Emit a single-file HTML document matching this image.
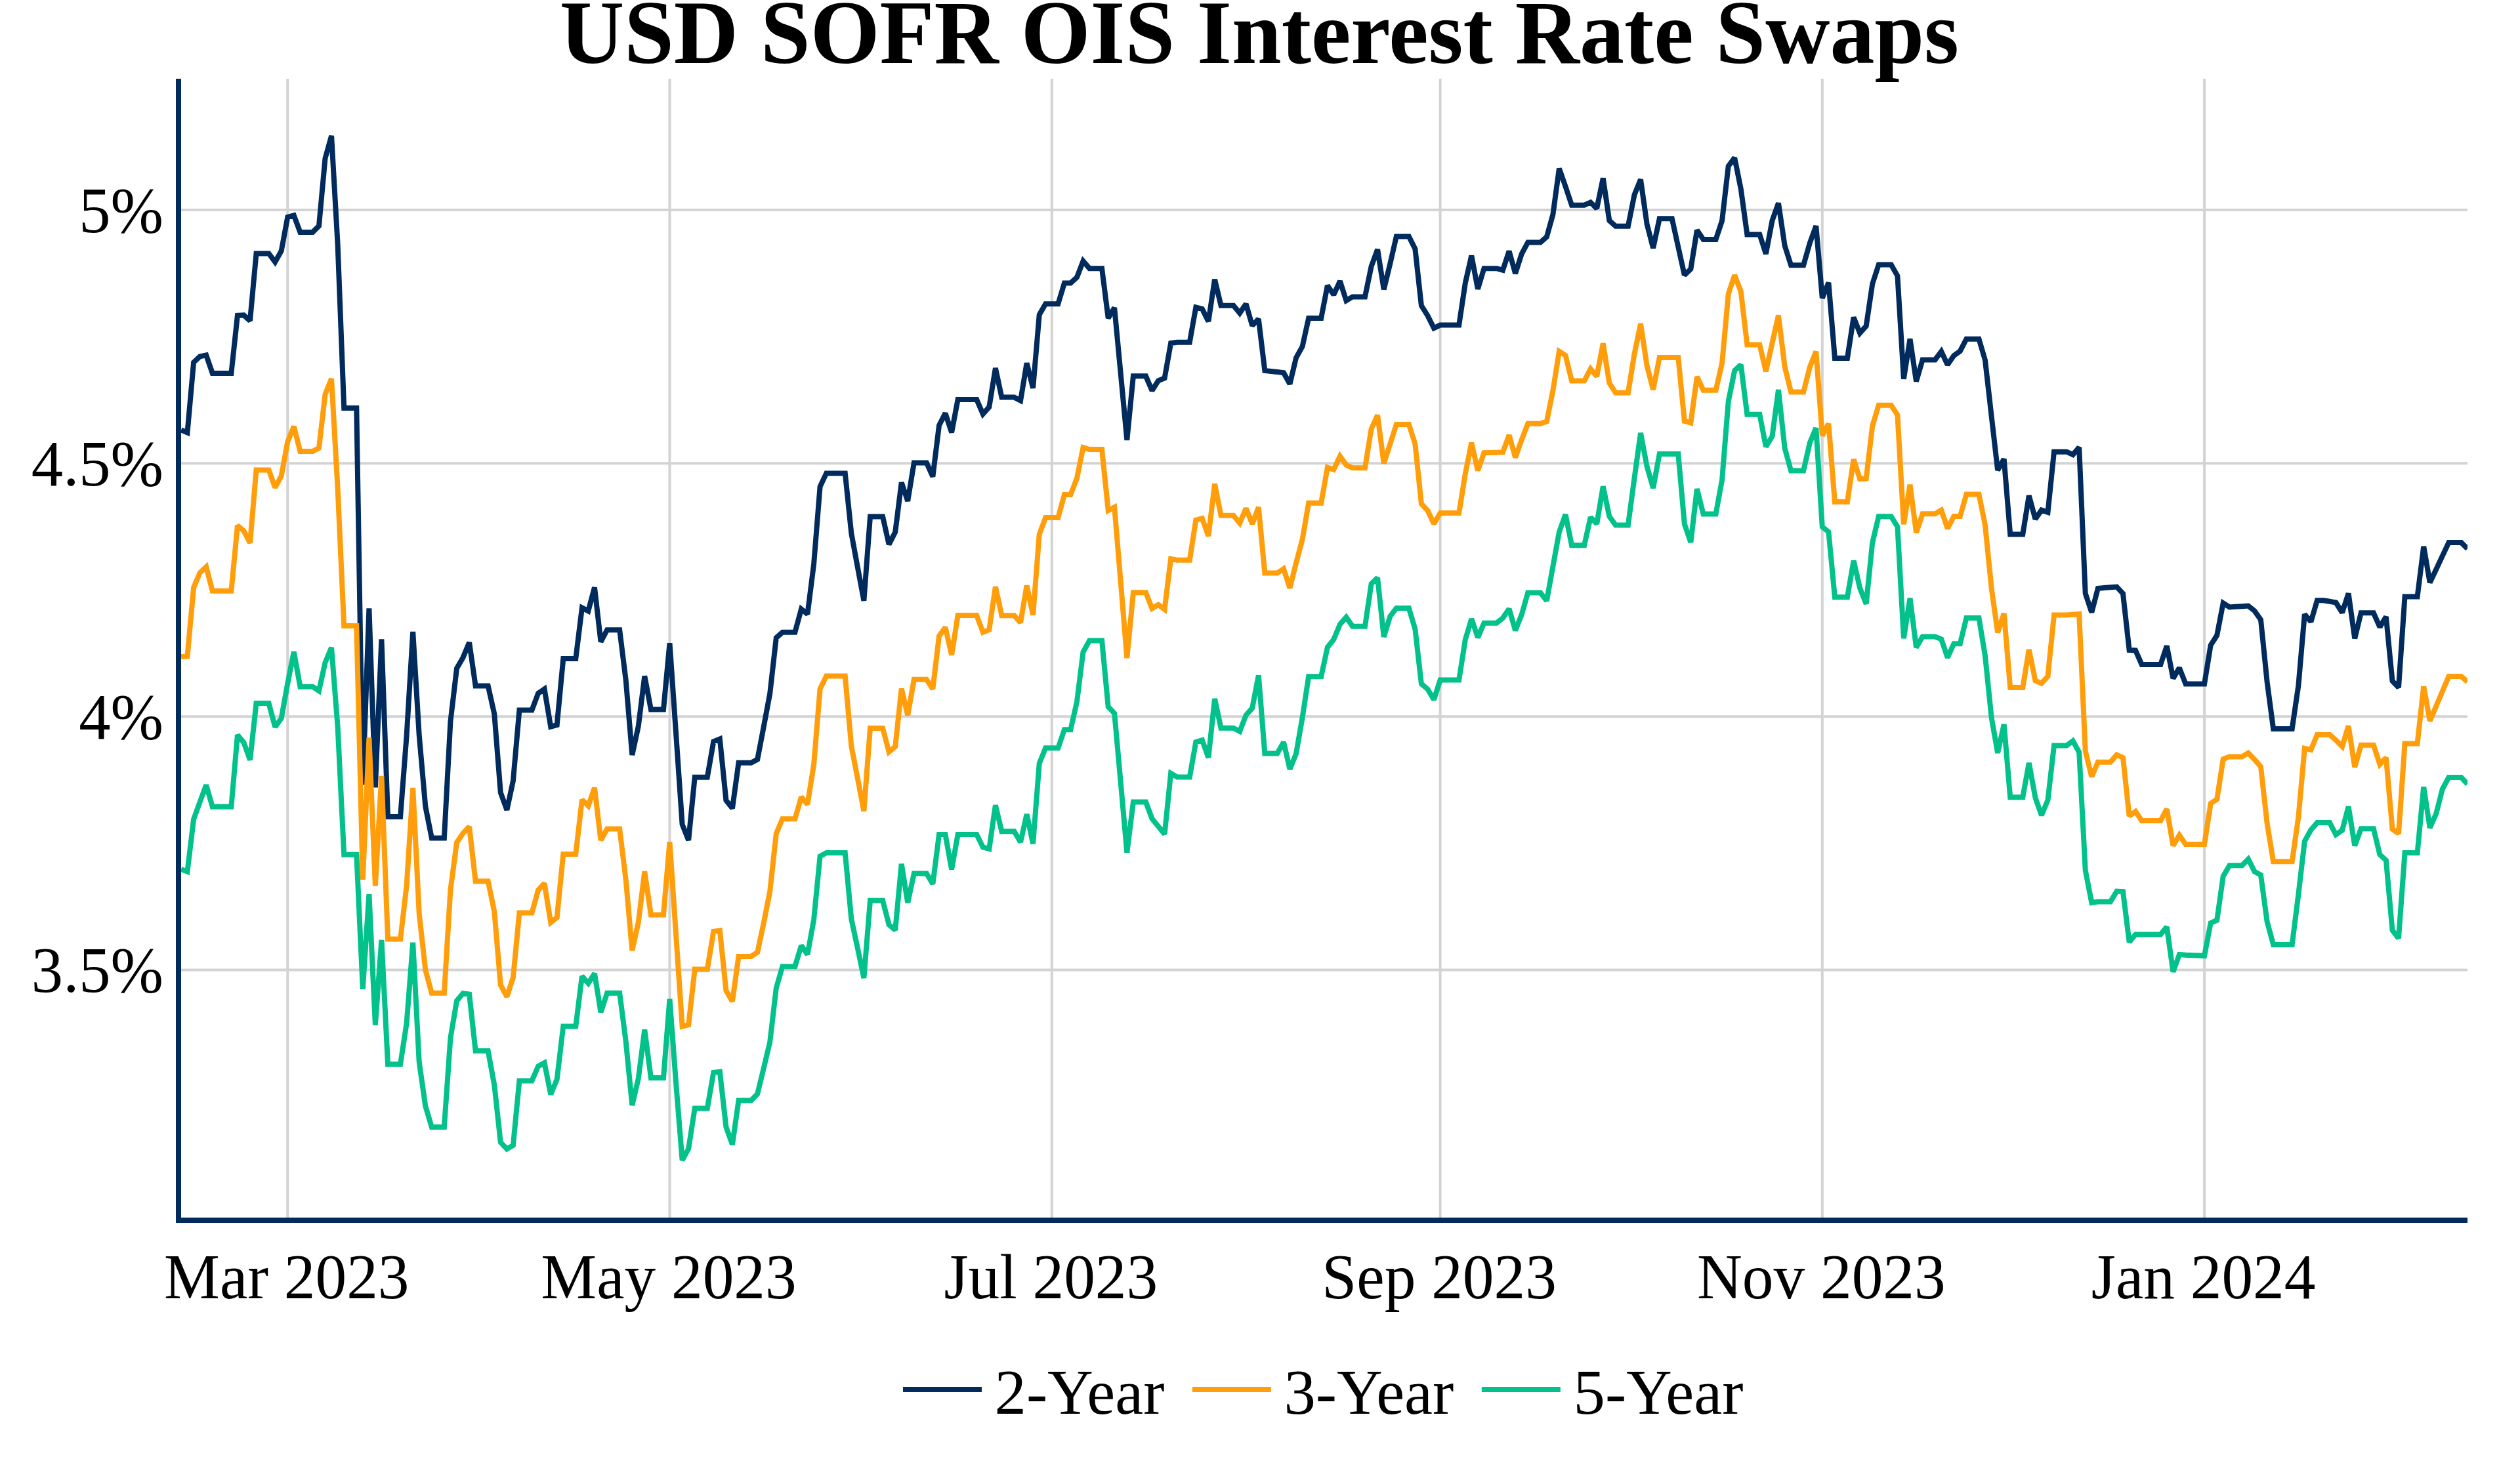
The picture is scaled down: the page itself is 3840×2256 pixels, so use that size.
<!DOCTYPE html>
<html lang="en"><head><meta charset="utf-8"><title>USD SOFR OIS Interest Rate Swaps</title>
<style>html,body{margin:0;padding:0;background:#fff;overflow:hidden}svg{display:block}text{font-family:"Liberation Serif",serif;fill:#000}.t{font-size:96px}.ttl{font-size:136px;font-weight:bold}.s{fill:none;stroke-width:8;stroke-linejoin:miter;stroke-miterlimit:2}</style></head><body>
<svg width="3840" height="2256" viewBox="0 0 3840 2256">
<rect width="3840" height="2256" fill="#fff"/>
<defs><clipPath id="c"><rect x="276" y="120" width="3484" height="1736"/></clipPath></defs>
<g stroke="#D3D3D3" stroke-width="4" fill="none">
<path d="M438.3,120V1856"/>
<path d="M1020.5,120V1856"/>
<path d="M1602.8,120V1856"/>
<path d="M2194.6,120V1856"/>
<path d="M2776.8,120V1856"/>
<path d="M3359.1,120V1856"/>
<path d="M276,320.1H3760"/>
<path d="M276,706.2H3760"/>
<path d="M276,1092.3H3760"/>
<path d="M276,1478.4H3760"/>
</g>
<g clip-path="url(#c)">
<path class="s" stroke="#002B5C" d="M276.0,655.4L285.5,659.4L295.1,552.4L304.6,543.4L314.2,541.4L323.7,568.9L333.3,568.9L342.8,568.9L352.4,568.9L361.9,480.9L371.5,480.4L381.0,488.9L390.5,386.4L400.1,386.4L409.6,386.4L419.2,399.4L428.7,382.4L438.3,330.9L447.8,328.4L457.4,353.9L466.9,353.9L476.4,353.9L486.0,344.4L495.5,241.4L505.1,207.1L514.6,372.4L524.2,621.9L533.7,621.9L543.3,621.9L552.8,1196.4L562.4,927.4L571.9,1200.4L581.4,974.4L591.0,1244.9L600.5,1244.9L610.1,1244.9L619.6,1121.4L629.2,962.9L638.7,1120.4L648.3,1229.4L657.8,1277.4L667.4,1277.4L676.9,1277.4L686.4,1100.1L696.0,1018.8L705.5,1002.4L715.1,979.4L724.6,1045.4L734.2,1045.4L743.7,1045.4L753.3,1088.4L762.8,1208.1L772.4,1234.7L781.9,1190.4L791.4,1082.4L801.0,1082.4L810.5,1082.4L820.1,1056.9L829.6,1050.4L839.2,1107.7L848.7,1105.2L858.3,1004.0L867.8,1004.0L877.3,1004.0L886.9,926.4L896.4,931.4L906.0,895.4L915.5,978.4L925.1,960.2L934.6,960.2L944.2,960.2L953.7,1036.9L963.3,1150.8L972.8,1106.8L982.3,1030.6L991.9,1081.4L1001.4,1081.4L1011.0,1081.4L1020.5,980.4L1030.1,1118.2L1039.6,1256.7L1049.2,1280.8L1058.7,1184.8L1068.3,1184.8L1077.8,1184.8L1087.3,1130.4L1096.9,1126.4L1106.4,1219.9L1116.0,1232.1L1125.5,1162.7L1135.1,1162.7L1144.6,1162.7L1154.2,1157.6L1163.7,1108.1L1173.2,1057.3L1182.8,972.2L1192.3,963.8L1201.9,963.8L1211.4,963.8L1221.0,928.5L1230.5,936.1L1240.1,859.9L1249.6,741.7L1259.2,721.4L1268.7,721.4L1278.2,721.4L1287.8,721.4L1297.3,812.9L1306.9,865.0L1316.4,915.8L1326.0,787.5L1335.5,787.5L1345.1,787.5L1354.6,829.9L1364.2,811.1L1373.7,735.4L1383.2,763.8L1392.8,705.4L1402.3,705.4L1411.9,705.4L1421.4,726.5L1431.0,648.5L1440.5,629.9L1450.1,659.2L1459.6,608.9L1469.1,608.9L1478.7,608.9L1488.2,608.9L1497.8,631.2L1507.3,620.4L1516.9,561.1L1526.4,605.6L1536.0,605.6L1545.5,605.6L1555.1,610.7L1564.6,553.5L1574.1,591.6L1583.7,479.8L1593.2,463.3L1602.8,463.3L1612.3,463.3L1621.9,431.5L1631.4,431.5L1641.0,422.6L1650.5,398.0L1660.1,409.2L1669.6,409.2L1679.1,409.2L1688.7,484.9L1698.2,469.1L1707.8,570.3L1717.3,670.9L1726.9,573.3L1736.4,573.3L1746.0,573.3L1755.5,595.4L1765.1,580.2L1774.6,576.4L1784.1,523.0L1793.7,521.7L1803.2,521.7L1812.8,521.7L1822.3,468.4L1831.9,470.9L1841.4,490.0L1851.0,425.9L1860.5,465.8L1870.0,465.8L1879.6,465.8L1889.1,477.3L1898.7,463.3L1908.2,496.3L1917.8,486.2L1927.3,564.9L1936.9,565.9L1946.4,566.9L1956.0,568.2L1965.5,585.2L1975.0,545.4L1984.6,528.1L1994.1,484.9L2003.7,484.9L2013.2,484.9L2022.8,435.3L2032.3,449.3L2041.9,428.5L2051.4,458.2L2061.0,452.4L2070.5,452.4L2080.0,452.4L2089.6,406.1L2099.1,380.2L2108.7,441.2L2118.2,402.4L2127.8,360.4L2137.3,360.4L2146.9,360.4L2156.4,379.5L2165.9,465.9L2175.5,481.1L2185.0,500.2L2194.6,495.6L2204.1,495.6L2213.7,495.6L2223.2,495.6L2232.8,431.6L2242.3,389.7L2251.9,440.5L2261.4,409.2L2270.9,409.2L2280.5,409.2L2290.0,411.8L2299.6,382.8L2309.1,416.9L2318.7,387.1L2328.2,369.4L2337.8,369.4L2347.3,369.4L2356.9,361.0L2366.4,326.9L2375.9,256.8L2385.5,284.2L2395.0,312.7L2404.6,312.7L2414.1,312.7L2423.7,308.4L2433.2,317.8L2442.8,271.5L2452.3,336.3L2461.9,344.7L2471.4,344.7L2480.9,344.7L2490.5,296.9L2500.0,273.6L2509.6,341.4L2519.1,378.2L2528.7,333.3L2538.2,333.3L2547.8,333.3L2557.3,376.5L2566.8,419.4L2576.4,410.0L2585.9,350.8L2595.5,365.0L2605.0,365.0L2614.6,365.0L2624.1,336.3L2633.7,253.2L2643.2,240.5L2652.8,288.1L2662.3,357.4L2671.8,357.4L2681.4,357.4L2690.9,387.1L2700.5,336.3L2710.0,309.6L2719.6,374.4L2729.1,404.2L2738.7,404.2L2748.2,404.2L2757.8,370.4L2767.3,344.4L2776.8,454.4L2786.4,430.8L2795.9,545.9L2805.5,545.9L2815.0,545.9L2824.6,483.7L2834.1,507.8L2843.7,496.9L2853.2,432.8L2862.7,403.6L2872.3,403.6L2881.8,403.6L2891.4,420.6L2900.9,577.7L2910.5,516.7L2920.0,581.5L2929.6,548.4L2939.1,548.4L2948.7,548.4L2958.2,535.7L2967.7,556.1L2977.3,542.1L2986.8,535.2L2996.4,516.7L3005.9,516.7L3015.5,516.7L3025.0,549.2L3034.6,634.1L3044.1,716.7L3053.7,699.6L3063.2,814.5L3072.7,814.5L3082.3,814.5L3091.8,755.5L3101.4,791.1L3110.9,777.6L3120.5,780.9L3130.0,688.7L3139.6,688.7L3149.1,688.7L3158.7,693.0L3168.2,681.8L3177.7,904.6L3187.3,933.4L3196.8,896.9L3206.4,896.1L3215.9,895.3L3225.5,894.6L3235.0,904.8L3244.6,990.9L3254.1,991.4L3263.6,1012.9L3273.2,1012.9L3282.7,1012.9L3292.3,1012.9L3301.8,984.6L3311.4,1034.1L3320.9,1018.0L3330.5,1042.4L3340.0,1042.4L3349.6,1042.4L3359.1,1042.4L3368.6,983.6L3378.2,968.4L3387.7,919.3L3397.3,925.4L3406.8,924.8L3416.4,924.2L3425.9,923.6L3435.5,931.2L3445.0,944.7L3454.6,1039.2L3464.1,1110.9L3473.6,1110.9L3483.2,1110.9L3492.7,1110.9L3502.3,1045.6L3511.8,936.3L3521.4,947.8L3530.9,915.2L3540.5,915.2L3550.0,916.8L3559.5,918.5L3569.1,933.8L3578.6,904.6L3588.2,973.2L3597.7,934.3L3607.3,934.3L3616.8,934.3L3626.4,955.9L3635.9,940.1L3645.5,1038.0L3655.0,1048.1L3664.5,909.6L3674.1,909.6L3683.6,909.6L3693.2,832.9L3702.7,888.1L3712.3,867.7L3721.8,847.4L3731.4,827.1L3740.9,827.1L3750.5,827.1L3760.0,836.5"/>
<path class="s" stroke="#FF9E0A" d="M276.0,1001.0L285.5,1000.4L295.1,895.6L304.6,873.0L314.2,864.0L323.7,900.7L333.3,900.7L342.8,900.7L352.4,900.7L361.9,801.1L371.5,809.2L381.0,827.7L390.5,716.5L400.1,716.5L409.6,716.5L419.2,743.1L428.7,725.4L438.3,673.3L447.8,649.9L457.4,688.0L466.9,688.0L476.4,688.0L486.0,682.9L495.5,600.9L505.1,577.2L514.6,744.4L524.2,954.0L533.7,954.0L543.3,954.0L552.8,1340.9L562.4,1124.4L571.9,1350.3L581.4,1182.9L591.0,1431.6L600.5,1431.6L610.1,1431.6L619.6,1350.3L629.2,1200.9L638.7,1392.2L648.3,1478.6L657.8,1513.7L667.4,1513.7L676.9,1513.7L686.4,1356.7L696.0,1284.3L705.5,1270.3L715.1,1260.1L724.6,1343.2L734.2,1343.2L743.7,1343.2L753.3,1389.7L762.8,1501.5L772.4,1519.3L781.9,1490.1L791.4,1391.5L801.0,1391.5L810.5,1391.5L820.1,1356.7L829.6,1346.5L839.2,1406.2L848.7,1398.6L858.3,1302.1L867.8,1302.1L877.3,1302.1L886.9,1219.0L896.4,1228.4L906.0,1200.8L915.5,1280.8L925.1,1263.6L934.6,1263.6L944.2,1263.6L953.7,1341.1L963.3,1449.0L972.8,1405.8L982.3,1328.3L991.9,1394.4L1001.4,1394.4L1011.0,1394.4L1020.5,1283.4L1030.1,1424.9L1039.6,1564.6L1049.2,1562.1L1058.7,1477.5L1068.3,1477.5L1077.8,1477.5L1087.3,1419.8L1096.9,1418.5L1106.4,1510.0L1116.0,1526.5L1125.5,1457.9L1135.1,1457.9L1144.6,1457.9L1154.2,1451.6L1163.7,1407.1L1173.2,1358.8L1182.8,1270.7L1192.3,1248.3L1201.9,1248.3L1211.4,1248.3L1221.0,1214.8L1230.5,1226.2L1240.1,1165.2L1249.6,1050.2L1259.2,1030.6L1268.7,1030.6L1278.2,1030.6L1287.8,1030.6L1297.3,1137.3L1306.9,1186.8L1316.4,1236.4L1326.0,1110.1L1335.5,1110.1L1345.1,1110.1L1354.6,1146.2L1364.2,1138.1L1373.7,1049.6L1383.2,1090.3L1392.8,1035.7L1402.3,1035.7L1411.9,1035.7L1421.4,1050.2L1431.0,969.6L1440.5,956.2L1450.1,998.3L1459.6,937.9L1469.1,937.9L1478.7,937.9L1488.2,937.9L1497.8,963.8L1507.3,960.0L1516.9,894.4L1526.4,938.3L1536.0,938.3L1545.5,938.3L1555.1,949.2L1564.6,892.5L1574.1,937.5L1583.7,814.5L1593.2,789.1L1602.8,789.1L1612.3,789.1L1621.9,754.1L1631.4,754.1L1641.0,729.0L1650.5,682.1L1660.1,685.0L1669.6,685.0L1679.1,685.0L1688.7,778.2L1698.2,773.1L1707.8,888.2L1717.3,1003.1L1726.9,903.2L1736.4,903.2L1746.0,903.2L1755.5,927.4L1765.1,921.8L1774.6,928.9L1784.1,851.9L1793.7,853.7L1803.2,853.7L1812.8,853.7L1822.3,792.7L1831.9,790.2L1841.4,817.1L1851.0,737.6L1860.5,785.8L1870.0,785.8L1879.6,785.8L1889.1,797.3L1898.7,774.9L1908.2,798.5L1917.8,773.1L1927.3,873.5L1936.9,873.5L1946.4,873.5L1956.0,867.1L1965.5,896.4L1975.0,858.2L1984.6,822.2L1994.1,766.8L2003.7,766.8L2013.2,766.8L2022.8,712.6L2032.3,715.8L2041.9,695.4L2051.4,708.9L2061.0,713.2L2070.5,713.2L2080.0,713.2L2089.6,653.8L2099.1,632.8L2108.7,706.4L2118.2,676.9L2127.8,646.9L2137.3,646.9L2146.9,646.9L2156.4,676.7L2165.9,768.1L2175.5,778.3L2185.0,798.6L2194.6,782.1L2204.1,782.1L2213.7,782.1L2223.2,782.1L2232.8,722.4L2242.3,674.9L2251.9,717.3L2261.4,690.1L2270.9,689.9L2280.5,689.7L2290.0,689.4L2299.6,663.2L2309.1,697.5L2318.7,670.3L2328.2,645.7L2337.8,645.7L2347.3,645.7L2356.9,642.4L2366.4,595.4L2375.9,535.7L2385.5,541.7L2395.0,580.6L2404.6,580.6L2414.1,580.6L2423.7,562.3L2433.2,573.8L2442.8,523.3L2452.3,583.9L2461.9,598.7L2471.4,598.7L2480.9,598.7L2490.5,539.5L2500.0,493.3L2509.6,557.3L2519.1,594.1L2528.7,544.9L2538.2,544.9L2547.8,544.9L2557.3,544.9L2566.8,641.8L2576.4,644.4L2585.9,574.3L2595.5,594.8L2605.0,594.8L2614.6,594.8L2624.1,553.4L2633.7,448.1L2643.2,419.4L2652.8,444.3L2662.3,525.5L2671.8,525.5L2681.4,525.5L2690.9,566.2L2700.5,522.9L2710.0,480.6L2719.6,558.8L2729.1,597.4L2738.7,597.4L2748.2,597.4L2757.8,559.4L2767.3,535.7L2776.8,664.1L2786.4,645.9L2795.9,764.9L2805.5,764.9L2815.0,764.9L2824.6,700.1L2834.1,730.1L2843.7,729.4L2853.2,649.4L2862.7,617.7L2872.3,617.7L2881.8,617.7L2891.4,632.6L2900.9,799.2L2910.5,738.8L2920.0,811.9L2929.6,783.2L2939.1,783.2L2948.7,783.2L2958.2,777.6L2967.7,805.6L2977.3,787.0L2986.8,787.0L2996.4,753.5L3005.9,753.5L3015.5,753.5L3025.0,800.5L3034.6,896.6L3044.1,964.2L3053.7,935.0L3063.2,1048.1L3072.7,1048.1L3082.3,1048.1L3091.8,990.2L3101.4,1037.4L3110.9,1041.7L3120.5,1030.8L3130.0,937.6L3139.6,937.6L3149.1,937.6L3158.7,936.8L3168.2,936.0L3177.7,1144.6L3187.3,1184.0L3196.8,1161.7L3206.4,1161.7L3215.9,1161.7L3225.5,1150.7L3235.0,1154.9L3244.6,1243.9L3254.1,1236.9L3263.6,1251.0L3273.2,1251.0L3282.7,1251.0L3292.3,1251.0L3301.8,1233.2L3311.4,1289.0L3320.9,1273.1L3330.5,1287.1L3340.0,1287.1L3349.6,1287.1L3359.1,1287.1L3368.6,1224.9L3378.2,1218.3L3387.7,1157.2L3397.3,1153.4L3406.8,1153.4L3416.4,1153.4L3425.9,1147.8L3435.5,1157.8L3445.0,1168.6L3454.6,1254.9L3464.1,1313.3L3473.6,1313.3L3483.2,1313.3L3492.7,1313.3L3502.3,1246.0L3511.8,1140.9L3521.4,1143.0L3530.9,1120.0L3540.5,1120.0L3550.0,1120.0L3559.5,1128.1L3569.1,1137.8L3578.6,1106.5L3588.2,1169.3L3597.7,1135.8L3607.3,1135.8L3616.8,1135.8L3626.4,1165.0L3635.9,1154.9L3645.5,1263.8L3655.0,1270.6L3664.5,1133.5L3674.1,1133.5L3683.6,1133.5L3693.2,1046.3L3702.7,1098.9L3712.3,1076.3L3721.8,1053.7L3731.4,1031.1L3740.9,1031.1L3750.5,1031.1L3760.0,1039.2"/>
<path class="s" stroke="#03C18B" d="M276.0,1324.9L285.5,1328.7L295.1,1248.7L304.6,1222.5L314.2,1196.6L323.7,1229.7L333.3,1229.7L342.8,1229.7L352.4,1229.7L361.9,1120.4L371.5,1131.8L381.0,1158.5L390.5,1072.1L400.1,1072.1L409.6,1072.1L419.2,1108.2L428.7,1095.0L438.3,1041.7L447.8,993.4L457.4,1046.7L466.9,1046.7L476.4,1046.7L486.0,1053.1L495.5,1009.9L505.1,987.0L514.6,1107.7L524.2,1302.8L533.7,1302.8L543.3,1302.8L552.8,1507.8L562.4,1363.0L571.9,1562.5L581.4,1432.9L591.0,1622.2L600.5,1622.2L610.1,1622.2L619.6,1559.9L629.2,1436.7L638.7,1618.6L648.3,1686.2L657.8,1717.9L667.4,1717.9L676.9,1717.9L686.4,1582.4L696.0,1525.6L705.5,1514.2L715.1,1515.5L724.6,1601.7L734.2,1601.7L743.7,1601.7L753.3,1654.1L762.8,1741.3L772.4,1751.4L781.9,1745.9L791.4,1647.4L801.0,1647.4L810.5,1647.4L820.1,1625.4L829.6,1620.2L839.2,1668.2L848.7,1645.2L858.3,1564.4L867.8,1564.4L877.3,1564.4L886.9,1487.9L896.4,1498.8L906.0,1483.8L915.5,1543.0L925.1,1513.8L934.6,1513.8L944.2,1513.8L953.7,1587.5L963.3,1684.9L972.8,1643.8L982.3,1569.5L991.9,1642.9L1001.4,1642.9L1011.0,1642.9L1020.5,1522.7L1030.1,1651.0L1039.6,1768.7L1049.2,1750.9L1058.7,1689.5L1068.3,1689.5L1077.8,1689.5L1087.3,1634.9L1096.9,1633.7L1106.4,1717.9L1116.0,1744.6L1125.5,1677.4L1135.1,1677.4L1144.6,1677.4L1154.2,1667.5L1163.7,1628.4L1173.2,1588.4L1182.8,1506.2L1192.3,1473.2L1201.9,1473.2L1211.4,1473.2L1221.0,1441.4L1230.5,1454.9L1240.1,1402.0L1249.6,1305.2L1259.2,1300.0L1268.7,1300.0L1278.2,1300.0L1287.8,1300.0L1297.3,1400.8L1306.9,1445.7L1316.4,1490.9L1326.0,1372.8L1335.5,1372.8L1345.1,1372.8L1354.6,1409.6L1364.2,1417.8L1373.7,1316.9L1383.2,1376.1L1392.8,1331.4L1402.3,1331.4L1411.9,1331.4L1421.4,1347.4L1431.0,1272.0L1440.5,1272.0L1450.1,1325.3L1459.6,1272.0L1469.1,1272.0L1478.7,1272.0L1488.2,1272.0L1497.8,1291.4L1507.3,1293.9L1516.9,1227.4L1526.4,1267.3L1536.0,1267.3L1545.5,1267.3L1555.1,1283.6L1564.6,1241.1L1574.1,1286.1L1583.7,1163.7L1593.2,1140.3L1602.8,1140.3L1612.3,1140.3L1621.9,1112.3L1631.4,1112.3L1641.0,1069.6L1650.5,993.8L1660.1,976.6L1669.6,976.6L1679.1,976.6L1688.7,1077.3L1698.2,1087.4L1707.8,1193.6L1717.3,1299.6L1726.9,1222.6L1736.4,1222.6L1746.0,1222.6L1755.5,1248.0L1765.1,1259.7L1774.6,1271.6L1784.1,1178.9L1793.7,1184.5L1803.2,1184.5L1812.8,1184.5L1822.3,1131.1L1831.9,1128.1L1841.4,1154.8L1851.0,1065.1L1860.5,1109.8L1870.0,1109.8L1879.6,1109.8L1889.1,1114.9L1898.7,1090.0L1908.2,1079.3L1917.8,1029.4L1927.3,1148.4L1936.9,1148.4L1946.4,1148.4L1956.0,1131.1L1965.5,1172.5L1975.0,1148.9L1984.6,1093.8L1994.1,1031.2L2003.7,1031.2L2013.2,1031.2L2022.8,986.8L2032.3,974.7L2041.9,951.7L2051.4,940.8L2061.0,954.8L2070.5,954.8L2080.0,954.8L2089.6,890.0L2099.1,880.6L2108.7,970.8L2118.2,939.5L2127.8,927.1L2137.3,927.1L2146.9,927.1L2156.4,959.1L2165.9,1042.4L2175.5,1050.5L2185.0,1066.5L2194.6,1036.6L2204.1,1036.6L2213.7,1036.6L2223.2,1036.6L2232.8,975.1L2242.3,943.3L2251.9,971.8L2261.4,949.7L2270.9,949.7L2280.5,949.7L2290.0,942.1L2299.6,928.1L2309.1,961.1L2318.7,937.0L2328.2,903.4L2337.8,903.4L2347.3,903.4L2356.9,915.9L2366.4,863.3L2375.9,811.0L2385.5,784.2L2395.0,831.3L2404.6,831.3L2414.1,831.3L2423.7,788.4L2433.2,798.6L2442.8,741.4L2452.3,787.2L2461.9,800.6L2471.4,800.6L2480.9,800.6L2490.5,728.7L2500.0,660.1L2509.6,710.9L2519.1,744.0L2528.7,691.9L2538.2,691.9L2547.8,691.9L2557.3,691.9L2566.8,798.6L2576.4,826.7L2585.9,745.2L2595.5,783.4L2605.0,783.4L2614.6,783.4L2624.1,731.3L2633.7,611.9L2643.2,564.9L2652.8,556.0L2662.3,631.7L2671.8,631.7L2681.4,631.7L2690.9,681.0L2700.5,665.2L2710.0,594.1L2719.6,683.0L2729.1,717.6L2738.7,717.6L2748.2,717.6L2757.8,675.0L2767.3,652.4L2776.8,803.0L2786.4,810.7L2795.9,910.3L2805.5,910.3L2815.0,910.3L2824.6,854.6L2834.1,896.3L2843.7,920.5L2853.2,827.2L2862.7,787.3L2872.3,787.3L2881.8,787.3L2891.4,803.0L2900.9,973.1L2910.5,911.8L2920.0,987.1L2929.6,970.6L2939.1,970.6L2948.7,970.6L2958.2,974.4L2967.7,1002.4L2977.3,981.3L2986.8,981.3L2996.4,941.9L3005.9,941.9L3015.5,941.9L3025.0,999.8L3034.6,1093.8L3044.1,1147.7L3053.7,1104.0L3063.2,1215.3L3072.7,1215.3L3082.3,1215.3L3091.8,1162.9L3101.4,1215.8L3110.9,1242.8L3120.5,1219.6L3130.0,1136.5L3139.6,1136.5L3149.1,1136.5L3158.7,1129.4L3168.2,1146.7L3177.7,1326.5L3187.3,1376.0L3196.8,1374.6L3206.4,1374.6L3215.9,1374.6L3225.5,1358.6L3235.0,1359.0L3244.6,1436.1L3254.1,1424.4L3263.6,1424.4L3273.2,1424.4L3282.7,1424.4L3292.3,1424.4L3301.8,1412.9L3311.4,1481.5L3320.9,1454.9L3330.5,1455.8L3340.0,1456.2L3349.6,1456.6L3359.1,1457.0L3368.6,1407.1L3378.2,1402.7L3387.7,1335.7L3397.3,1319.2L3406.8,1319.2L3416.4,1319.2L3425.9,1309.5L3435.5,1328.6L3445.0,1333.7L3454.6,1404.8L3464.1,1439.9L3473.6,1439.9L3483.2,1439.9L3492.7,1439.9L3502.3,1364.1L3511.8,1282.3L3521.4,1265.1L3530.9,1254.1L3540.5,1254.1L3550.0,1254.1L3559.5,1272.2L3569.1,1265.6L3578.6,1229.5L3588.2,1289.2L3597.7,1263.3L3607.3,1263.3L3616.8,1263.3L3626.4,1302.7L3635.9,1311.3L3645.5,1418.0L3655.0,1430.2L3664.5,1300.1L3674.1,1300.1L3683.6,1300.1L3693.2,1199.5L3702.7,1261.8L3712.3,1240.2L3721.8,1202.8L3731.4,1185.0L3740.9,1185.0L3750.5,1185.0L3760.0,1195.2"/>
</g>
<g fill="#002B5C" shape-rendering="crispEdges">
<rect x="268" y="120" width="8" height="1744"/>
<rect x="268" y="1856" width="3492" height="8"/>
</g>
<text class="ttl" transform="translate(1919 95.5) scale(1 1.02)" text-anchor="middle">USD SOFR OIS Interest Rate Swaps</text>
<text class="t" transform="translate(436.8 1979.1) scale(0.9935 1.025)" text-anchor="middle">Mar 2023</text>
<text class="t" transform="translate(1019.0 1979.1) scale(0.9935 1.025)" text-anchor="middle">May 2023</text>
<text class="t" transform="translate(1601.3 1979.1) scale(0.9935 1.025)" text-anchor="middle">Jul 2023</text>
<text class="t" transform="translate(2193.1 1979.1) scale(0.9935 1.025)" text-anchor="middle">Sep 2023</text>
<text class="t" transform="translate(2775.3 1979.1) scale(0.9935 1.025)" text-anchor="middle">Nov 2023</text>
<text class="t" transform="translate(3357.6 1979.1) scale(0.9935 1.025)" text-anchor="middle">Jan 2024</text>
<text class="t" transform="translate(249 353.8) scale(1.006 1.034)" text-anchor="end">5%</text>
<text class="t" transform="translate(249 739.9) scale(1.006 1.034)" text-anchor="end">4.5%</text>
<text class="t" transform="translate(249 1126.0) scale(1.006 1.034)" text-anchor="end">4%</text>
<text class="t" transform="translate(249 1512.1) scale(1.006 1.034)" text-anchor="end">3.5%</text>
<path d="M1376,2118H1496" stroke="#002B5C" stroke-width="8" fill="none"/>
<text class="t" transform="translate(1515.5 2155.2) scale(1.008 1.02)" text-anchor="start">2-Year</text>
<path d="M1816.9,2118H1936.9" stroke="#FF9E0A" stroke-width="8" fill="none"/>
<text class="t" transform="translate(1956.4 2155.2) scale(1.008 1.02)" text-anchor="start">3-Year</text>
<path d="M2257.8,2118H2377.8" stroke="#03C18B" stroke-width="8" fill="none"/>
<text class="t" transform="translate(2397.5 2155.2) scale(1.008 1.02)" text-anchor="start">5-Year</text>
</svg></body></html>
